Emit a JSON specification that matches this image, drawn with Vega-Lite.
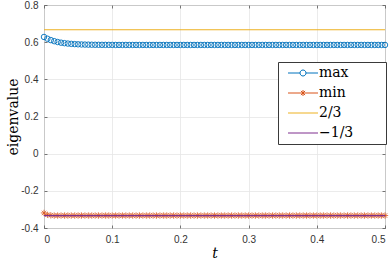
{
  "$schema": "https://vega.github.io/schema/vega-lite/v6.json",
  "autosize": {"type": "none"},
  "width": 341,
  "height": 223,
  "padding": {"left": 44, "top": 5, "right": 7, "bottom": 34},
  "background": "white",
  "datasets": {
    "maxv": [
      {"t": 0, "v": 0.628, "s": "max"}, {"t": 0.005, "v": 0.6185, "s": "max"}, {"t": 0.01, "v": 0.6111, "s": "max"},
      {"t": 0.015, "v": 0.6053, "s": "max"}, {"t": 0.02, "v": 0.6008, "s": "max"}, {"t": 0.025, "v": 0.5973, "s": "max"},
      {"t": 0.03, "v": 0.5946, "s": "max"}, {"t": 0.035, "v": 0.5925, "s": "max"}, {"t": 0.04, "v": 0.5908, "s": "max"},
      {"t": 0.045, "v": 0.5895, "s": "max"}, {"t": 0.05, "v": 0.5885, "s": "max"}, {"t": 0.055, "v": 0.5877, "s": "max"},
      {"t": 0.06, "v": 0.5871, "s": "max"}, {"t": 0.065, "v": 0.5867, "s": "max"}, {"t": 0.07, "v": 0.5863, "s": "max"},
      {"t": 0.075, "v": 0.586, "s": "max"}, {"t": 0.08, "v": 0.5858, "s": "max"}, {"t": 0.085, "v": 0.5856, "s": "max"},
      {"t": 0.09, "v": 0.5855, "s": "max"}, {"t": 0.095, "v": 0.5854, "s": "max"}, {"t": 0.1, "v": 0.5853, "s": "max"},
      {"t": 0.105, "v": 0.585, "s": "max"}, {"t": 0.11, "v": 0.585, "s": "max"}, {"t": 0.115, "v": 0.585, "s": "max"},
      {"t": 0.12, "v": 0.585, "s": "max"}, {"t": 0.125, "v": 0.585, "s": "max"}, {"t": 0.13, "v": 0.585, "s": "max"},
      {"t": 0.135, "v": 0.585, "s": "max"}, {"t": 0.14, "v": 0.585, "s": "max"}, {"t": 0.145, "v": 0.585, "s": "max"},
      {"t": 0.15, "v": 0.585, "s": "max"}, {"t": 0.155, "v": 0.585, "s": "max"}, {"t": 0.16, "v": 0.585, "s": "max"},
      {"t": 0.165, "v": 0.585, "s": "max"}, {"t": 0.17, "v": 0.585, "s": "max"}, {"t": 0.175, "v": 0.585, "s": "max"},
      {"t": 0.18, "v": 0.585, "s": "max"}, {"t": 0.185, "v": 0.585, "s": "max"}, {"t": 0.19, "v": 0.585, "s": "max"},
      {"t": 0.195, "v": 0.585, "s": "max"}, {"t": 0.2, "v": 0.585, "s": "max"}, {"t": 0.205, "v": 0.585, "s": "max"},
      {"t": 0.21, "v": 0.585, "s": "max"}, {"t": 0.215, "v": 0.585, "s": "max"}, {"t": 0.22, "v": 0.585, "s": "max"},
      {"t": 0.225, "v": 0.585, "s": "max"}, {"t": 0.23, "v": 0.585, "s": "max"}, {"t": 0.235, "v": 0.585, "s": "max"},
      {"t": 0.24, "v": 0.585, "s": "max"}, {"t": 0.245, "v": 0.585, "s": "max"}, {"t": 0.25, "v": 0.585, "s": "max"},
      {"t": 0.255, "v": 0.585, "s": "max"}, {"t": 0.26, "v": 0.585, "s": "max"}, {"t": 0.265, "v": 0.585, "s": "max"},
      {"t": 0.27, "v": 0.585, "s": "max"}, {"t": 0.275, "v": 0.585, "s": "max"}, {"t": 0.28, "v": 0.585, "s": "max"},
      {"t": 0.285, "v": 0.585, "s": "max"}, {"t": 0.29, "v": 0.585, "s": "max"}, {"t": 0.295, "v": 0.585, "s": "max"},
      {"t": 0.3, "v": 0.585, "s": "max"}, {"t": 0.305, "v": 0.585, "s": "max"}, {"t": 0.31, "v": 0.585, "s": "max"},
      {"t": 0.315, "v": 0.585, "s": "max"}, {"t": 0.32, "v": 0.585, "s": "max"}, {"t": 0.325, "v": 0.585, "s": "max"},
      {"t": 0.33, "v": 0.585, "s": "max"}, {"t": 0.335, "v": 0.585, "s": "max"}, {"t": 0.34, "v": 0.585, "s": "max"},
      {"t": 0.345, "v": 0.585, "s": "max"}, {"t": 0.35, "v": 0.585, "s": "max"}, {"t": 0.355, "v": 0.585, "s": "max"},
      {"t": 0.36, "v": 0.585, "s": "max"}, {"t": 0.365, "v": 0.585, "s": "max"}, {"t": 0.37, "v": 0.585, "s": "max"},
      {"t": 0.375, "v": 0.585, "s": "max"}, {"t": 0.38, "v": 0.585, "s": "max"}, {"t": 0.385, "v": 0.585, "s": "max"},
      {"t": 0.39, "v": 0.585, "s": "max"}, {"t": 0.395, "v": 0.585, "s": "max"}, {"t": 0.4, "v": 0.585, "s": "max"},
      {"t": 0.405, "v": 0.585, "s": "max"}, {"t": 0.41, "v": 0.585, "s": "max"}, {"t": 0.415, "v": 0.585, "s": "max"},
      {"t": 0.42, "v": 0.585, "s": "max"}, {"t": 0.425, "v": 0.585, "s": "max"}, {"t": 0.43, "v": 0.585, "s": "max"},
      {"t": 0.435, "v": 0.585, "s": "max"}, {"t": 0.44, "v": 0.585, "s": "max"}, {"t": 0.445, "v": 0.585, "s": "max"},
      {"t": 0.45, "v": 0.585, "s": "max"}, {"t": 0.455, "v": 0.585, "s": "max"}, {"t": 0.46, "v": 0.585, "s": "max"},
      {"t": 0.465, "v": 0.585, "s": "max"}, {"t": 0.47, "v": 0.585, "s": "max"}, {"t": 0.475, "v": 0.585, "s": "max"},
      {"t": 0.48, "v": 0.585, "s": "max"}, {"t": 0.485, "v": 0.585, "s": "max"}, {"t": 0.49, "v": 0.585, "s": "max"},
      {"t": 0.495, "v": 0.585, "s": "max"}, {"t": 0.5, "v": 0.585, "s": "max"}
    ],
    "minv": [
      {"t": 0, "v": -0.319, "s": "min"}, {"t": 0.005, "v": -0.329, "s": "min"}, {"t": 0.01, "v": -0.332, "s": "min"},
      {"t": 0.015, "v": -0.333, "s": "min"}, {"t": 0.02, "v": -0.333, "s": "min"}, {"t": 0.025, "v": -0.333, "s": "min"},
      {"t": 0.03, "v": -0.333, "s": "min"}, {"t": 0.035, "v": -0.333, "s": "min"}, {"t": 0.04, "v": -0.333, "s": "min"},
      {"t": 0.045, "v": -0.333, "s": "min"}, {"t": 0.05, "v": -0.333, "s": "min"}, {"t": 0.055, "v": -0.333, "s": "min"},
      {"t": 0.06, "v": -0.333, "s": "min"}, {"t": 0.065, "v": -0.333, "s": "min"}, {"t": 0.07, "v": -0.333, "s": "min"},
      {"t": 0.075, "v": -0.333, "s": "min"}, {"t": 0.08, "v": -0.333, "s": "min"}, {"t": 0.085, "v": -0.333, "s": "min"},
      {"t": 0.09, "v": -0.333, "s": "min"}, {"t": 0.095, "v": -0.333, "s": "min"}, {"t": 0.1, "v": -0.333, "s": "min"},
      {"t": 0.105, "v": -0.333, "s": "min"}, {"t": 0.11, "v": -0.333, "s": "min"}, {"t": 0.115, "v": -0.333, "s": "min"},
      {"t": 0.12, "v": -0.333, "s": "min"}, {"t": 0.125, "v": -0.333, "s": "min"}, {"t": 0.13, "v": -0.333, "s": "min"},
      {"t": 0.135, "v": -0.333, "s": "min"}, {"t": 0.14, "v": -0.333, "s": "min"}, {"t": 0.145, "v": -0.333, "s": "min"},
      {"t": 0.15, "v": -0.333, "s": "min"}, {"t": 0.155, "v": -0.333, "s": "min"}, {"t": 0.16, "v": -0.333, "s": "min"},
      {"t": 0.165, "v": -0.333, "s": "min"}, {"t": 0.17, "v": -0.333, "s": "min"}, {"t": 0.175, "v": -0.333, "s": "min"},
      {"t": 0.18, "v": -0.333, "s": "min"}, {"t": 0.185, "v": -0.333, "s": "min"}, {"t": 0.19, "v": -0.333, "s": "min"},
      {"t": 0.195, "v": -0.333, "s": "min"}, {"t": 0.2, "v": -0.333, "s": "min"}, {"t": 0.205, "v": -0.333, "s": "min"},
      {"t": 0.21, "v": -0.333, "s": "min"}, {"t": 0.215, "v": -0.333, "s": "min"}, {"t": 0.22, "v": -0.333, "s": "min"},
      {"t": 0.225, "v": -0.333, "s": "min"}, {"t": 0.23, "v": -0.333, "s": "min"}, {"t": 0.235, "v": -0.333, "s": "min"},
      {"t": 0.24, "v": -0.333, "s": "min"}, {"t": 0.245, "v": -0.333, "s": "min"}, {"t": 0.25, "v": -0.333, "s": "min"},
      {"t": 0.255, "v": -0.333, "s": "min"}, {"t": 0.26, "v": -0.333, "s": "min"}, {"t": 0.265, "v": -0.333, "s": "min"},
      {"t": 0.27, "v": -0.333, "s": "min"}, {"t": 0.275, "v": -0.333, "s": "min"}, {"t": 0.28, "v": -0.333, "s": "min"},
      {"t": 0.285, "v": -0.333, "s": "min"}, {"t": 0.29, "v": -0.333, "s": "min"}, {"t": 0.295, "v": -0.333, "s": "min"},
      {"t": 0.3, "v": -0.333, "s": "min"}, {"t": 0.305, "v": -0.333, "s": "min"}, {"t": 0.31, "v": -0.333, "s": "min"},
      {"t": 0.315, "v": -0.333, "s": "min"}, {"t": 0.32, "v": -0.333, "s": "min"}, {"t": 0.325, "v": -0.333, "s": "min"},
      {"t": 0.33, "v": -0.333, "s": "min"}, {"t": 0.335, "v": -0.333, "s": "min"}, {"t": 0.34, "v": -0.333, "s": "min"},
      {"t": 0.345, "v": -0.333, "s": "min"}, {"t": 0.35, "v": -0.333, "s": "min"}, {"t": 0.355, "v": -0.333, "s": "min"},
      {"t": 0.36, "v": -0.333, "s": "min"}, {"t": 0.365, "v": -0.333, "s": "min"}, {"t": 0.37, "v": -0.333, "s": "min"},
      {"t": 0.375, "v": -0.333, "s": "min"}, {"t": 0.38, "v": -0.333, "s": "min"}, {"t": 0.385, "v": -0.333, "s": "min"},
      {"t": 0.39, "v": -0.333, "s": "min"}, {"t": 0.395, "v": -0.333, "s": "min"}, {"t": 0.4, "v": -0.333, "s": "min"},
      {"t": 0.405, "v": -0.333, "s": "min"}, {"t": 0.41, "v": -0.333, "s": "min"}, {"t": 0.415, "v": -0.333, "s": "min"},
      {"t": 0.42, "v": -0.333, "s": "min"}, {"t": 0.425, "v": -0.333, "s": "min"}, {"t": 0.43, "v": -0.333, "s": "min"},
      {"t": 0.435, "v": -0.333, "s": "min"}, {"t": 0.44, "v": -0.333, "s": "min"}, {"t": 0.445, "v": -0.333, "s": "min"},
      {"t": 0.45, "v": -0.333, "s": "min"}, {"t": 0.455, "v": -0.333, "s": "min"}, {"t": 0.46, "v": -0.333, "s": "min"},
      {"t": 0.465, "v": -0.333, "s": "min"}, {"t": 0.47, "v": -0.333, "s": "min"}, {"t": 0.475, "v": -0.333, "s": "min"},
      {"t": 0.48, "v": -0.333, "s": "min"}, {"t": 0.485, "v": -0.333, "s": "min"}, {"t": 0.49, "v": -0.333, "s": "min"},
      {"t": 0.495, "v": -0.333, "s": "min"}, {"t": 0.5, "v": -0.333, "s": "min"}
    ],
    "consts": [
      {"t": 0, "v": 0.6667, "s": "2/3"}, {"t": 0.5, "v": 0.6667, "s": "2/3"},
      {"t": 0, "v": -0.3333, "s": "−1/3"}, {"t": 0.5, "v": -0.3333, "s": "−1/3"}
    ]
  },
  "config": {
    "view": {"stroke": "#5a5a5a", "strokeWidth": 1},
    "legend": {"labelFont": "DejaVu Serif", "labelFontSize": 14, "labelColor": "#000000"},
    "axis": {
      "labelFont": "Liberation Sans",
      "labelFontSize": 10,
      "labelColor": "#333333",
      "domain": false,
      "tickColor": "#555555",
      "tickSize": -3,
      "tickWidth": 0.8,
      "gridColor": "#e6e6e6",
      "gridWidth": 0.8,
      "titleFont": "DejaVu Serif",
      "titleFontSize": 14,
      "titleFontWeight": "normal",
      "titleColor": "#000000"
    }
  },
  "encoding": {
    "x": {
      "field": "t", "type": "quantitative",
      "scale": {"domain": [0, 0.5], "nice": false, "zero": false}
    },
    "y": {
      "field": "v", "type": "quantitative",
      "scale": {"domain": [-0.4, 0.8], "nice": false, "zero": false}
    },
    "color": {
      "field": "s", "type": "nominal",
      "scale": {"domain": ["max", "min", "2/3", "−1/3"], "range": ["#0072BD", "#D95319", "#EDB120", "#7E2F8E"]},
      "legend": {
        "title": null,
        "orient": "none",
        "legendX": 234,
        "legendY": 57,
        "fillColor": "white",
        "strokeColor": "#3a3a3a",
        "padding": 4,
        "symbolSize": 144,
        "symbolStrokeWidth": 1,
        "symbolOffset": 14,
        "labelOffset": 9,
        "labelFont": "DejaVu Serif",
        "labelFontSize": 14,
        "labelColor": "#000000",
        "rowPadding": 6,
        "labelExpr": "datum.label + '\u00a0\u00a0\u00a0\u00a0\u2800'",
        "encode": {
          "symbols": {
            "update": {
              "shape": {"signal": "datum.value === 'max' ? 'M-2.5,0L-0.5,0M0.5,0L2.5,0M-0.5,0A0.5,0.5 0 1,0 0.5,0A0.5,0.5 0 1,0 -0.5,0' : datum.value === 'min' ? 'M-2.5,0L2.5,0M0,-0.5L0,0.5M-0.35,-0.35L0.35,0.35M-0.35,0.35L0.35,-0.35' : 'M-2.5,0L2.5,0'"},
              "fill": {"value": "transparent"},
              "opacity": {"value": 1},
              "strokeWidth": {"value": 1}
            }
          }
        }
      }
    }
  },
  "layer": [
    {
      "data": {"name": "maxv"},
      "mark": {"type": "point", "shape": "circle", "filled": false, "size": 30, "strokeWidth": 0.9, "opacity": 1},
      "encoding": {
        "x": {
          "field": "t", "type": "quantitative",
          "axis": {
            "orient": "bottom",
            "values": [0, 0.1, 0.2, 0.3, 0.4, 0.5],
            "labelExpr": "datum.value == 0 ? '0' : format(datum.value, '.1f')",
            "labelPadding": 9,
            "title": "t",
            "titleFontStyle": "italic",
            "titlePadding": 2
          }
        },
        "y": {
          "field": "v", "type": "quantitative",
          "axis": {
            "orient": "left",
            "values": [-0.4, -0.2, 0, 0.2, 0.4, 0.6, 0.8],
            "labelExpr": "datum.value == 0 ? '0' : replace(format(datum.value, '.1f'), '\u2212', '-')",
            "labelPadding": 9,
            "title": "eigenvalue",
            "titlePadding": 0
          }
        }
      }
    },
    {
      "data": {"name": "minv"},
      "mark": {"type": "point", "shape": "M-1,0L1,0M0,-1L0,1M-0.7,-0.7L0.7,0.7M-0.7,0.7L0.7,-0.7", "filled": false, "size": 40, "strokeWidth": 0.8, "opacity": 1},
      "encoding": {
        "x": {
          "field": "t", "type": "quantitative",
          "axis": {"orient": "top", "values": [0, 0.1, 0.2, 0.3, 0.4, 0.5], "labels": false, "grid": false, "title": null}
        },
        "y": {
          "field": "v", "type": "quantitative",
          "axis": {"orient": "right", "values": [-0.4, -0.2, 0, 0.2, 0.4, 0.6, 0.8], "labels": false, "grid": false, "title": null}
        }
      }
    },
    {
      "data": {"name": "consts"},
      "mark": {"type": "line", "strokeWidth": 1.1},
      "encoding": {
        "x": {"field": "t", "type": "quantitative", "axis": null},
        "y": {"field": "v", "type": "quantitative", "axis": null}
      }
    }
  ],
  "resolve": {"axis": {"x": "independent", "y": "independent"}}
}
